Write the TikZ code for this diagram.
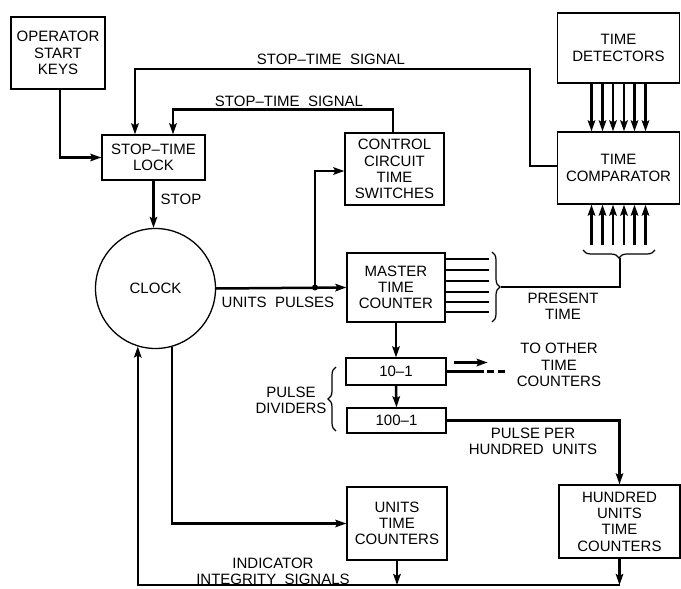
\documentclass[tikz,border=0pt]{standalone}
\usepackage{fontspec}
\setmainfont{Liberation Sans}
\usetikzlibrary{arrows.meta,decorations.pathreplacing,calc}
\newcommand\lblfont{\fontsize{15}{16.3}\selectfont}
\begin{document}
\begin{tikzpicture}[x=1pt,y=-1pt,
  box/.style={draw,line width=1.3pt,inner sep=0pt,align=center,font=\lblfont},
  lbl/.style={inner sep=0pt,align=center,font=\lblfont},
  line/.style={line width=2.5pt},
  arr/.style={line,-{Stealth[length=11pt,width=7.5pt,inset=2pt]}},
  brc/.style={line width=1.2pt,decorate,decoration={brace,amplitude=8pt}}]
\useasboundingbox (0,0) rectangle (681,589);
% boxes
\node[box,minimum width=94,minimum height=72] (osk) at (58,53) {OPERATOR\\START\\KEYS};
\node[box,minimum width=103,minimum height=45] (lock) at (153.5,157.5) {STOP–TIME\\LOCK};
\node[box,minimum width=99,minimum height=72] (ccts) at (394.5,169) {CONTROL\\CIRCUIT\\TIME\\SWITCHES};
\node[box,minimum width=122,minimum height=70] (det) at (618.5,48) {TIME\\DETECTORS};
\node[box,minimum width=122,minimum height=72] (comp) at (618.5,168) {TIME\\COMPARATOR};
\node[draw,circle,line width=1.3pt,minimum size=120,inner sep=0pt,font=\lblfont] (clock) at (155.5,288.5) {CLOCK};
\node[box,minimum width=98,minimum height=69] (mtc) at (396,287.5) {MASTER\\TIME\\COUNTER};
\node[box,minimum width=100,minimum height=27] (d10) at (396,371.5) {10–1};
\node[box,minimum width=99,minimum height=25] (d100) at (396.5,420.5) {100–1};
\node[box,minimum width=100,minimum height=73] (utc) at (397,523.5) {UNITS\\TIME\\COUNTERS};
\node[box,minimum width=121,minimum height=73] (hutc) at (619.5,521.5) {HUNDRED\\UNITS\\TIME\\COUNTERS};
% labels
\node[lbl] (l1) at (331,59) {STOP–TIME\ \ SIGNAL};
\node[lbl] (l2) at (289,101) {STOP–TIME\ \ SIGNAL};
\node[lbl] (l3) at (181,199) {STOP};
\node[lbl] (l4) at (278,302) {UNITS\ \ PULSES};
\node[lbl] (l5) at (563,306) {PRESENT\\TIME};
\node[lbl] (l6) at (559,365) {TO OTHER\\TIME\\COUNTERS};
\node[lbl] (l7) at (291,400) {PULSE\\DIVIDERS};
\node[lbl] (l8) at (533,441) {PULSE PER\\HUNDRED\ \ UNITS};
\node[lbl] (l9) at (273,571) {INDICATOR\\INTEGRITY\ \ SIGNALS};
% connectors
\draw[arr] ($(osk.south)+(2,0)$) |- (lock.west);
\coordinate (t1) at (530,69);
\draw[arr] ($(comp.west)+(0,-2)$) -| (t1) -| ($(lock.north)+(-18.5,0)$);
\draw[arr] ($(ccts.north)+(-1.5,0)$) |- ($(lock.north)+(19.5,-25)$) -- ($(lock.north)+(19.5,0)$);
\draw[arr] (lock.south) -- (lock.south |- clock.north);
\coordinate (j) at (315,287.5);
\draw[arr] (clock.east) -- (mtc.west);
\fill (j) circle (3);
\draw[arr] (j) |- ($(ccts.west)+(0,2)$);
\foreach \dy in {-28.5,-17.5,-6.5,4.5,14.5,24.5}
  \draw[line] ($(mtc.east)+(0,\dy)$) -- ++(43,0);
\draw[brc] (492,252) -- (492,322);
\draw[brc] (655,250) -- (583,250);
\draw[brc] (336,431) -- (336,367);
\coordinate (bt1) at (620,258);
\coordinate (bt2) at (501,287);
\draw[line] (bt1) |- (bt2);
\foreach \dx in {-27,-16,-5.5,5.5,16,27} {
  \draw[arr] ([xshift=\dx]det.south) -- ([xshift=\dx]comp.north);
  \draw[arr] ([xshift=\dx]comp.south) ++(0,40) -- ([xshift=\dx]comp.south);
}
\draw[arr] (mtc.south) -- (d10.north);
\draw[arr] (d10.south) -- (d100.north);
\draw[line] (d10.east) -- ++(37,0) coordinate (dq);
\draw[line,dash pattern=on 7pt off 4pt] ($(dq)+(3,0)$) -- ++(19,0);
\draw[arr] ($(d10.east)+(7,-9)$) -- ++(34,0);
\draw[arr] (d100.east) -| (hutc.north);
\draw[arr] (clock.-74) |- (utc.west);
\coordinate (bot) at (0,585);
\draw[arr] (utc.south) -- (utc.south |- bot);
\draw[arr] (hutc.south) -- (hutc.south |- bot);
\draw[arr] (hutc.south |- bot) -- (clock.-107 |- bot) -- (clock.-107);
\end{tikzpicture}
\end{document}
